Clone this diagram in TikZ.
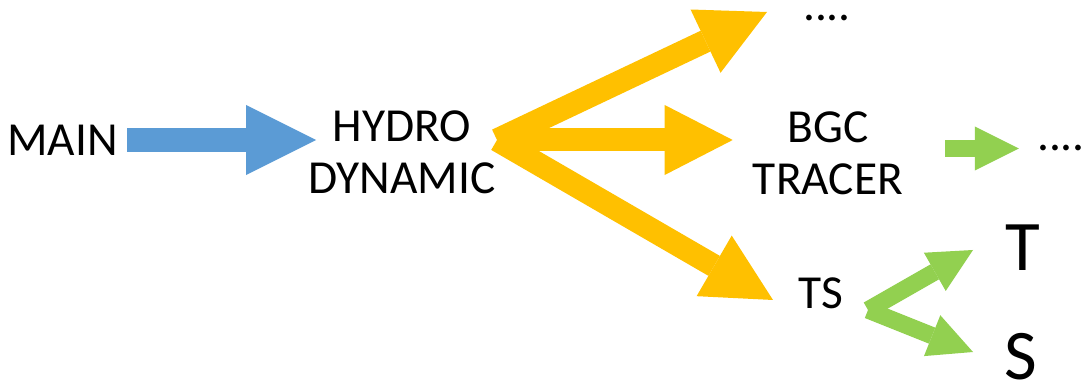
\documentclass[tikz,border=0pt]{standalone}
\usepackage{fontspec}
\setmainfont{Carlito}
\usepackage{tikz}
\usetikzlibrary{arrows.meta}
\definecolor{mainblue}{RGB}{91,155,213}
\definecolor{hydroyellow}{RGB}{255,192,0}
\definecolor{tracergreen}{RGB}{146,208,80}

\begin{document}
\begin{tikzpicture}[x=0.025cm, y=-0.025cm,
    every node/.style={inner sep=0pt,font={\fontsize{33.7}{37}\selectfont}},
    big/.style={font={\fontsize{50.6}{55}\selectfont}},
    blueflow/.style={draw=mainblue,line width=0.6cm,
                     -{Triangle[length=1.75cm,width=1.75cm,line width=0pt]}},
    yellowflow/.style={draw=hydroyellow,line width=0.575cm,
                       -{Triangle[length=1.7cm,width=1.75cm,line width=0pt]}},
    greenflow/.style={draw=tracergreen,line width=0.43cm,
                      -{Triangle[length=1.1cm,width=1.1cm,line width=0pt]}}]

  \useasboundingbox (0,0) rectangle (1083,385);

  % Module names
  \node (main)   at (62.5,140) {MAIN};
  \node[align=center] (hydro) at (402,152) {HYDRO\\DYNAMIC};
  \node[align=center] (bgc)   at (828,153) {BGC\\TRACER};
  \node (ts)     at (820.5,293.5) {TS};
  \node[big] (tvar) at (1022.5,247.5) {T};
  \node[big] (svar) at (1021,357) {S};
  \node[anchor=base] (moreA) at (827,21) {....};
  \node[anchor=base] (moreB) at (1061,151) {....};

  % Split points and free ends
  \coordinate (fork)  at (497,140);
  \coordinate (split) at (868,310);
  \coordinate (tipA)  at (767,12);
  \coordinate (tipTS) at (773,300);
  \coordinate (tipT)  at (973,250);
  \coordinate (tipS)  at (973,352);

  % MAIN -> HYDRO DYNAMIC
  \draw[blueflow,shorten <=0.225cm,shorten >=-0.2cm] (main.east) -- (main.east -| hydro.west);

  % HYDRO DYNAMIC fans out
  \draw[yellowflow] (fork) -- (tipA);
  \draw[yellowflow,shorten >=0.5cm] (fork) -- (fork -| bgc.west);
  \draw[yellowflow] (fork) -- (tipTS);

  % BGC TRACER and TS
  \draw[greenflow,shorten <=1.05cm,shorten >=0.45cm] (bgc.east |- moreB) -- (moreB.west);
  \draw[greenflow] (split) -- (tipT);
  \draw[greenflow] (split) -- (tipS);

\end{tikzpicture}
\end{document}
